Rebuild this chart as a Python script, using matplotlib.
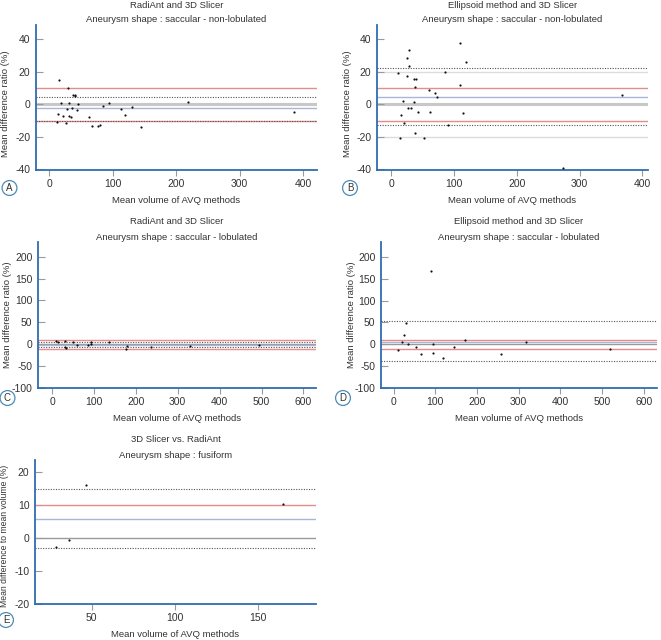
import numpy as np
import matplotlib
matplotlib.use("Agg")
import matplotlib.pyplot as plt

plt.rcParams['font.family'] = ['Liberation Sans', 'DejaVu Sans']
plt.rcParams['axes.unicode_minus'] = False

# ---- data ----
# Panel A: RadiAnt vs 3D Slicer, saccular non-lobulated
a_x = [14.7, 29, 37, 40, 41, 18.4, 31, 46, 13, 21, 27.4, 36, 44, 12.6, 27, 31.6, 34,
       62, 67, 76, 79.5, 84, 94, 113, 119, 130.5, 144.7, 218, 385]
a_y = [14.8, 10, 5.5, 6, 5, 0.6, 0.8, 0.2, -6, -7, -2.7, -2.5, -3.5, -10.9, -11.3, -7.2, -7.8,
       -7.8, -13.5, -13.3, -12.5, -0.8, 0.8, -2.9, -6.8, -1.6, -14.2, 1.6, -4.9]
a_mean, a_upper, a_lower = -2.5, 4.4, -10.2

# Panel B: Ellipsoid vs 3D Slicer, saccular non-lobulated
b_x = [27.5, 25.4, 27.5, 109, 119, 10.6, 86, 25.4, 35.5, 39.7, 38.6, 109, 60, 69, 72.6, 367,
       18, 36.6, 15.4, 26, 30.7, 42.4, 61.5, 114, 21, 90.6, 37.6, 13.8, 52, 274]
b_y = [33.6, 28.7, 23.4, 38, 26, 19, 19.7, 17.2, 15.8, 15.8, 10.9, 11.7, 8.8, 7, 4.5, 5.5,
       1.8, 1.4, -6.6, -2.5, -2.5, -4.9, -4.9, -5.3, -11.7, -12.9, -17.4, -20.7, -20.5, -39]
b_mean, b_upper, b_lower = 4.7, 22.2, -12.9

# Panel C: RadiAnt vs 3D Slicer, saccular lobulated
c_x = [9.6, 14.4, 32, 49.5, 59, 86, 94, 94, 135.5, 180, 175.4, 236, 330, 30.4, 34.4, 495]
c_y = [6.9, 5.3, 7.6, 6, -2.3, -2.3, 5.3, 0, 5.3, -3.8, -12, -6, -4.6, -6.9, -8.4, -2.3]
c_mean, c_upper, c_lower = -0.9, 5.3, -6.9

# Panel D: Ellipsoid vs 3D Slicer, saccular lobulated
d_x = [90.4, 29.6, 25.6, 19.2, 33.6, 11.2, 54.4, 66.4, 95, 94.4, 117.6, 144.8, 170.4, 258, 318, 520]
d_y = [167, 48, 21.5, 6.1, 1.5, -13, -6.1, -23, 0, -20.7, -30.7, -6.1, 10, -23, 4.6, -11.5]
d_mean, d_upper, d_lower = 6.0, 53.8, -38

# Panel E: 3D Slicer vs RadiAnt, fusiform
e_x = [46.4, 36.2, 28.8, 164.6]
e_y = [15.8, -0.8, -2.8, 10.3]
e_mean, e_upper, e_lower = 5.6, 14.6, -3.1

W, H = 661, 640
fig = plt.figure(figsize=(W / 100, H / 100), dpi=100)

TXT = '#333333'
SPINE = '#2f6db0'


def make_axes(l, r, t, b):
    ax = fig.add_axes([l / W, 1 - b / H, (r - l) / W, (b - t) / H])
    ax.px = (l, r, t, b)
    return ax


def panel(ax, x, y, mean, upper, lower, xlim, ylim, xticks, yticks, titles, ylabel,
          letter, letter_xy, title_y, red=(10, -10), thick_zero=True, extra=None,
          ylabel_size=6.8, ylabel_y=0.5):
    l, r, t, b = ax.px
    ax.set_xlim(*xlim)
    ax.set_ylim(*ylim)
    if extra:
        for v in extra:
            ax.axhline(v, color='#dcdcdc', lw=1.0, zorder=1)
    ax.axhline(0, color='#c8c8c8' if thick_zero else '#9a9a9a',
               lw=2.2 if thick_zero else 1.0, zorder=1)
    for v in red:
        ax.axhline(v, color='#e58c8c', lw=1.0, zorder=2)
    ax.axhline(mean, color='#a9b6d8', lw=1.0, zorder=2)
    ax.axhline(upper, color='#555555', lw=0.8, ls=(0, (1, 1.3)), zorder=3)
    ax.axhline(lower, color='#555555', lw=0.8, ls=(0, (1, 1.3)), zorder=3)
    ax.scatter(x, y, s=2.5, color='#111111', zorder=4, linewidths=0)

    for s in ('top', 'right'):
        ax.spines[s].set_visible(False)
    for s in ('left', 'bottom'):
        ax.spines[s].set_color(SPINE)
        ax.spines[s].set_linewidth(1.3)
    ax.set_xticks(xticks)
    ax.set_yticks(yticks)
    ax.tick_params(axis='y', direction='in', length=5, color='#9a9a9a', width=0.8,
                   labelsize=7.5, labelcolor=TXT, pad=4)
    ax.tick_params(axis='x', direction='out', length=4, color='#9a9a9a', width=0.8,
                   labelsize=7.5, labelcolor=TXT, pad=2.5)
    ax.set_xlabel('Mean volume of AVQ methods', fontsize=6.8, color=TXT, va='center')
    ax.xaxis.set_label_coords(0.5, -30.5 / (b - t))
    ax.set_ylabel(ylabel, fontsize=ylabel_size, color=TXT, va='center')
    ax.yaxis.set_label_coords(-30 / (r - l), ylabel_y)
    ax.patch.set_alpha(0)

    cx = (l + r) / 2
    fig.text(cx / W, 1 - title_y[0] / H, titles[0], ha='center', va='center',
             fontsize=6.8, color=TXT)
    fig.text(cx / W, 1 - title_y[1] / H, titles[1], ha='center', va='center',
             fontsize=6.8, color=TXT)

    lx, ly = letter_xy
    fig.text(lx / W, 1 - ly / H, letter, ha='center', va='center', fontsize=7,
             color=TXT, bbox=dict(boxstyle='circle,pad=0.25', fc='white',
                                  ec='#4a8cb8', lw=0.9))


ylab = 'Mean difference ratio (%)'

axA = make_axes(36, 317, 25, 170)
panel(axA, a_x, a_y, a_mean, a_upper, a_lower, (-21, 422), (-40.4, 48.8),
      [0, 100, 200, 300, 400], [-40, -20, 0, 20, 40],
      ('RadiAnt and 3D Slicer', 'Aneurysm shape : saccular - non-lobulated'), ylab,
      'A', (9.5, 188), (5.7, 20), ylabel_y=0.46)

axB = make_axes(377, 648, 25, 170)
panel(axB, b_x, b_y, b_mean, b_upper, b_lower, (-22.7, 409), (-40.4, 48.8),
      [0, 100, 200, 300, 400], [-40, -20, 0, 20, 40],
      ('Ellipsoid method and 3D Slicer', 'Aneurysm shape : saccular - non-lobulated'), ylab,
      'B', (350, 188), (5.7, 20), extra=[20, -20], ylabel_y=0.46)

axC = make_axes(38, 316, 242, 388)
panel(axC, c_x, c_y, c_mean, c_upper, c_lower, (-33.5, 630), (-100, 233.6),
      list(range(0, 700, 100)), [-100, -50, 0, 50, 100, 150, 200],
      ('RadiAnt and 3D Slicer', 'Aneurysm shape : saccular - lobulated'), ylab,
      'C', (7.5, 398), (221, 238), thick_zero=False)

axD = make_axes(381, 657, 242, 388)
panel(axD, d_x, d_y, d_mean, d_upper, d_lower, (-30, 632), (-100, 234),
      list(range(0, 700, 100)), [-100, -50, 0, 50, 100, 150, 200],
      ('Ellipsoid method and 3D Slicer', 'Aneurysm shape : saccular - lobulated'), ylab,
      'D', (343, 398), (221, 238), thick_zero=False)

axE = make_axes(35, 316, 460, 604)
panel(axE, e_x, e_y, e_mean, e_upper, e_lower, (16, 184.6), (-20, 23.5),
      [50, 100, 150], [-20, -10, 0, 10, 20],
      ('3D Slicer vs. RadiAnt', 'Aneurysm shape : fusiform'),
      'Mean difference to mean volume (%)', 'E', (6, 620), (440, 455),
      red=(10,), thick_zero=False, ylabel_size=6.2, ylabel_y=0.47)

fig.savefig('out.png', dpi=100)
